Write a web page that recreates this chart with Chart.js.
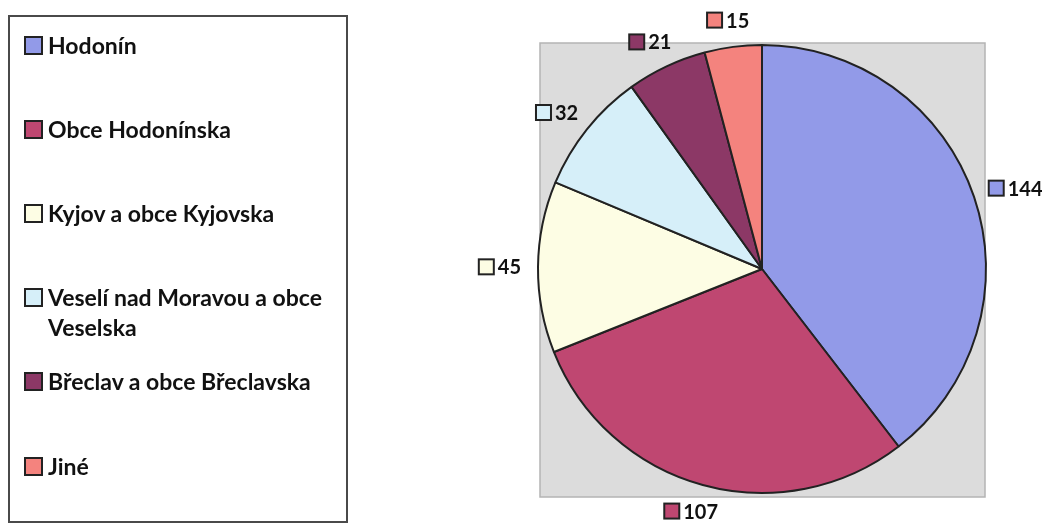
<!DOCTYPE html>
<html>
<head>
<meta charset="utf-8">
<script src="https://cdn.jsdelivr.net/npm/chart.js@4/dist/chart.umd.min.js"></script>
<style>
  body { margin: 0; background: #fff; font-family: Lato, 'Open Sans', sans-serif; }
  #wrap { position: relative; width: 1042px; height: 524px; }
  #chart { position: absolute; left: 0; top: 0; }
  #legend {
    position: absolute; left: 8px; top: 15px; width: 336px; height: 504px;
    border: 2px solid #4a4a4a; box-sizing: content-box;
  }
  .item { position: absolute; left: 14px; width: 310px; font-weight: bold; font-size: 23px;
    line-height: 30px; color: #111; }
  .item .sw { position: absolute; left: 0; top: 6px; width: 15px; height: 15px;
    border: 2px solid #222; }
  .item .tx { display: block; margin-left: 24px; width: 290px; }
</style>
</head>
<body>
<div id="wrap">
  <canvas id="chart" width="1042" height="524"></canvas>
  <div id="legend"></div>
</div>
<script>
const labels = ['Hodonín', 'Obce Hodonínska', 'Kyjov a obce Kyjovska',
  'Veselí nad Moravou a obce Veselska', 'Břeclav a obce Břeclavska', 'Jiné'];
const values = [144, 107, 45, 32, 21, 15];
const colors = ['#929ae8', '#bf4771', '#fdfde4', '#d6eff9', '#8c3866', '#f4837e'];

// legend in the left frame
const legend = document.getElementById('legend');
labels.forEach((l, i) => {
  const d = document.createElement('div');
  d.className = 'item';
  d.style.top = (12.5 + i * 84.2) + 'px';
  d.innerHTML = '<span class="sw" style="background:' + colors[i] + '"></span><span class="tx">' + l + '</span>';
  legend.appendChild(d);
});

const grayBox = {
  id: 'grayBox',
  beforeDraw(chart) {
    const a = chart.chartArea, ctx = chart.ctx;
    ctx.save();
    ctx.fillStyle = '#dcdcdc';
    ctx.fillRect(a.left + 3, a.top - 1, a.right - a.left - 5, a.bottom - a.top + 4);
    ctx.strokeStyle = '#b4b4b4';
    ctx.lineWidth = 1.5;
    ctx.strokeRect(a.left + 3, a.top - 1, a.right - a.left - 5, a.bottom - a.top + 4);
    ctx.restore();
  }
};

// value labels: small colour square + number, pushed outside the slice
const valueLabels = {
  id: 'valueLabels',
  afterDraw(chart) {
    const ctx = chart.ctx;
    const meta = chart.getDatasetMeta(0);
    ctx.save();
    ctx.font = 'bold 20px Lato, sans-serif';
    ctx.textBaseline = 'middle';
    meta.data.forEach((arc, i) => {
      const p = arc.getProps(['x', 'y', 'startAngle', 'endAngle', 'outerRadius'], true);
      const mid = (p.startAngle + p.endAngle) / 2;
      const ux = Math.cos(mid), uy = Math.sin(mid);
      const txt = String(values[i]);
      const tw = ctx.measureText(txt).width;
      const sq = 15, gap = 4;
      const w = sq + gap + tw, h = 20;
      const r = p.outerRadius + 17;
      const cx = p.x + ux * r + ux * w / 2;
      const cy = p.y + uy * r + uy * h / 2;
      const x0 = cx - w / 2;
      ctx.fillStyle = colors[i];
      ctx.fillRect(x0, cy - sq / 2, sq, sq);
      ctx.strokeStyle = '#222';
      ctx.lineWidth = 2;
      ctx.strokeRect(x0, cy - sq / 2, sq, sq);
      ctx.fillStyle = '#111';
      ctx.textAlign = 'left';
      ctx.fillText(txt, x0 + sq + gap, cy + 1);
    });
    ctx.restore();
  }
};

new Chart(document.getElementById('chart'), {
  type: 'pie',
  data: {
    labels: labels,
    datasets: [{
      data: values,
      backgroundColor: colors,
      borderColor: '#222',
      borderWidth: 2
    }]
  },
  options: {
    responsive: false,
    animation: false,
    layout: { padding: { left: 537, right: 55, top: 44, bottom: 30 } },
    plugins: { legend: { display: false }, tooltip: { enabled: false } }
  },
  plugins: [grayBox, valueLabels]
});
</script>
</body>
</html>
